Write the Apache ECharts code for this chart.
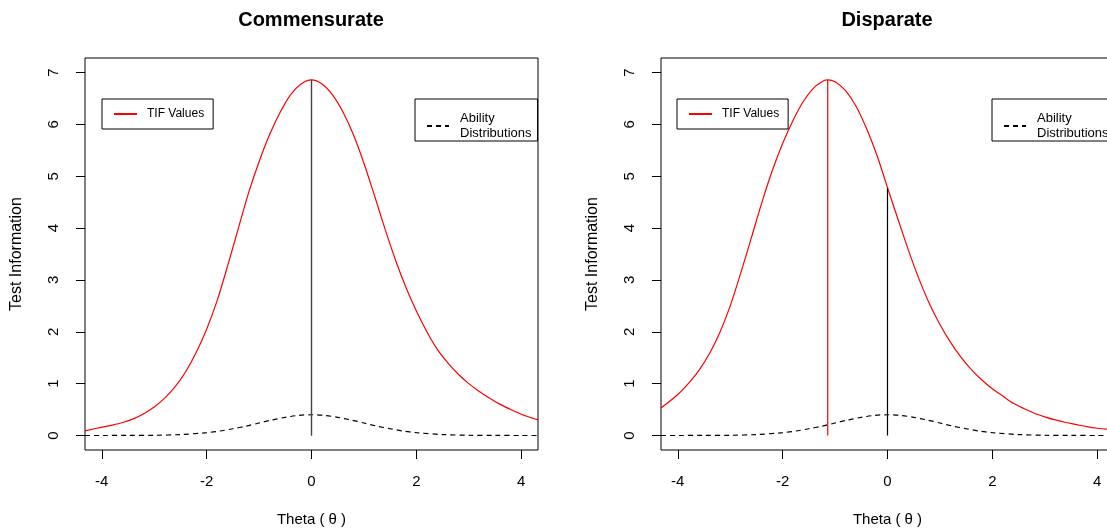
<!DOCTYPE html>
<html>
<head>
<meta charset="utf-8">
<script src="https://cdn.jsdelivr.net/npm/echarts@6/dist/echarts.min.js"></script>
<style>html,body{margin:0;padding:0;background:#fff}#c{width:1107px;height:531px}</style>
</head>
<body>
<div id="c"></div>
<script>
// ---- data ----
const panelTitles = ['Commensurate', 'Disparate'];
const xTicks = [-4, -2, 0, 2, 4];
const yTicks = [0, 1, 2, 3, 4, 5, 6, 7];

// TIF curve, commensurate panel
const thetaA = [-4.32, -4.0, -3.8, -3.6, -3.4, -3.2, -3.0, -2.8, -2.6, -2.4, -2.2, -2.0, -1.8, -1.6, -1.4, -1.2, -1.0, -0.8, -0.6, -0.4, -0.2, 0, 0.2, 0.4, 0.6, 0.8, 1.0, 1.2, 1.4, 1.6, 1.8, 2.0, 2.2, 2.4, 2.6, 2.8, 3.0, 3.2, 3.4, 3.6, 3.8, 4.0, 4.2, 4.32];
const tifA   = [0.09, 0.16, 0.20, 0.25, 0.32, 0.42, 0.55, 0.72, 0.94, 1.23, 1.60, 2.05, 2.60, 3.27, 3.98, 4.68, 5.28, 5.80, 6.23, 6.57, 6.78, 6.86, 6.78, 6.57, 6.24, 5.80, 5.25, 4.63, 3.99, 3.39, 2.86, 2.40, 2.00, 1.66, 1.40, 1.18, 1.00, 0.85, 0.72, 0.60, 0.50, 0.41, 0.34, 0.30];

// TIF curve, disparate panel
const thetaB = [-4.32, -4.0, -3.8, -3.6, -3.4, -3.2, -3.0, -2.8, -2.6, -2.4, -2.2, -2.0, -1.8, -1.6, -1.4, -1.2, -1.14, -1.0, -0.8, -0.6, -0.4, -0.2, 0, 0.2, 0.4, 0.6, 0.8, 1.0, 1.2, 1.4, 1.6, 1.8, 2.0, 2.2, 2.4, 2.6, 2.8, 3.0, 3.2, 3.4, 3.6, 3.8, 4.0, 4.32];
const tifB   = [0.53, 0.79, 1.00, 1.25, 1.57, 1.98, 2.50, 3.13, 3.80, 4.48, 5.10, 5.63, 6.08, 6.45, 6.71, 6.85, 6.86, 6.82, 6.65, 6.35, 5.92, 5.40, 4.78, 4.17, 3.57, 3.02, 2.54, 2.14, 1.80, 1.51, 1.27, 1.07, 0.90, 0.76, 0.62, 0.52, 0.43, 0.36, 0.30, 0.25, 0.21, 0.17, 0.14, 0.11];

// Ability distribution (same in both panels)
const thetaD = [-4.32, -4.0, -3.5, -3.0, -2.5, -2.0, -1.75, -1.5, -1.25, -1.0, -0.75, -0.5, -0.25, 0, 0.25, 0.5, 0.75, 1.0, 1.25, 1.5, 1.75, 2.0, 2.5, 3.0, 3.5, 4.0, 4.32];
const densD  = [0.0, 0.0, 0.001, 0.004, 0.018, 0.054, 0.086, 0.13, 0.18, 0.24, 0.30, 0.35, 0.387, 0.40, 0.387, 0.35, 0.30, 0.24, 0.18, 0.13, 0.086, 0.054, 0.018, 0.004, 0.001, 0.0, 0.0];

// vertical reference lines: [theta, top value]
const peakA = [0, 6.86];      // TIF maximum (red)
const meanA = [0, 6.86];      // ability mean (black)
const peakB = [-1.14, 6.86];
const meanB = [0, 4.77];

const zip = (xs, ys) => xs.map((x, i) => [x, ys[i]]);
const vline = p => [[p[0], 0], [p[0], p[1]]];

const FONT = 'Liberation Sans, Arial, sans-serif';
const grids = [
  {left: 85, top: 58, width: 453, height: 392},
  {left: 661, top: 58, width: 453, height: 392}
];

function xAx(i) {
  return {
    type: 'value', gridIndex: i, min: -4.32, max: 4.32,
    name: 'Theta ( θ )', nameLocation: 'middle', nameGap: 62,
    nameTextStyle: {fontFamily: FONT, fontSize: 15, color: '#000'},
    axisLine: {show: false, onZero: false},
    axisTick: {show: true, length: 9, inside: false, customValues: xTicks, lineStyle: {color: '#000', width: 1}},
    axisLabel: {show: true, customValues: xTicks, margin: 24, fontFamily: FONT, fontSize: 15, color: '#000'},
    splitLine: {show: false}
  };
}
function yAx(i) {
  return {
    type: 'value', gridIndex: i, min: -0.28, max: 7.28,
    name: 'Test Information', nameLocation: 'middle', nameGap: 60,
    nameTextStyle: {fontFamily: FONT, fontSize: 16, color: '#000'},
    axisLine: {show: false, onZero: false},
    axisTick: {show: true, length: 9, inside: false, customValues: yTicks, lineStyle: {color: '#000', width: 1}},
    axisLabel: {show: true, customValues: yTicks, rotate: 90, margin: 24, fontFamily: FONT, fontSize: 15, color: '#000'},
    splitLine: {show: false}
  };
}

function lineSeries(name, i, data, color, dashed, smooth, width) {
  return {
    name: name, type: 'line', xAxisIndex: i, yAxisIndex: i, data: data,
    symbol: 'none', smooth: smooth, clip: true, animation: false,
    lineStyle: {color: color, width: width || 1.2, type: dashed ? [5, 4] : 'solid'},
    itemStyle: {color: color}
  };
}

const series = [
  lineSeries('TIF Values', 0, zip(thetaA, tifA), '#ff0000', false, 0.3),
  lineSeries('Ability Distributions', 0, zip(thetaD, densD), '#000000', true, 0.3),
  lineSeries('peakA', 0, vline(peakA), '#ff0000', false, false, 1),
  lineSeries('meanA', 0, vline(meanA), '#444444', false, false, 1.4),
  lineSeries('TIF Values', 1, zip(thetaB, tifB), '#ff0000', false, 0.3),
  lineSeries('Ability Distributions', 1, zip(thetaD, densD), '#000000', true, 0.3),
  lineSeries('peakB', 1, vline(peakB), '#ff0000', false, false),
  lineSeries('meanB', 1, vline(meanB), '#000000', false, false)
];

const hiddenSymbol = {opacity: 0, color: 'rgba(0,0,0,0)', borderWidth: 0};

function legendTIF(left) {
  return {
    data: ['TIF Values'], left: left, top: 99, orient: 'vertical',
    padding: [9, 9, 9, 11], itemWidth: 23, itemHeight: 14, itemGap: 0,
    borderColor: '#000', borderWidth: 1, borderRadius: 0, backgroundColor: '#fff',
    selectedMode: false, itemStyle: hiddenSymbol,
    textStyle: {fontFamily: FONT, fontSize: 12, color: '#000', padding: [0, 0, 0, 5]}
  };
}
function legendAbility(left) {
  return {
    data: ['Ability Distributions'], left: left, top: 99, orient: 'vertical',
    padding: [12, 6, 0, 11], itemWidth: 22, itemHeight: 14, itemGap: 0,
    borderColor: '#000', borderWidth: 1, borderRadius: 0, backgroundColor: '#fff',
    selectedMode: false, itemStyle: hiddenSymbol,
    formatter: () => 'Ability\nDistributions',
    textStyle: {fontFamily: FONT, fontSize: 13, lineHeight: 15, color: '#000', padding: [0, 0, 0, 6]}
  };
}

const option = {
  backgroundColor: '#fff',
  animation: false,
  title: [
    {text: panelTitles[0], left: 311, top: 10, textAlign: 'center', padding: 0,
     textStyle: {fontFamily: FONT, fontSize: 20, fontWeight: 'bold', color: '#000'}},
    {text: panelTitles[1], left: 887, top: 10, textAlign: 'center', padding: 0,
     textStyle: {fontFamily: FONT, fontSize: 20, fontWeight: 'bold', color: '#000'}}
  ],
  grid: grids.map(g => Object.assign({show: true, borderColor: '#000', borderWidth: 1, backgroundColor: 'transparent', containLabel: false, outerBoundsMode: 'none'}, g)),
  xAxis: [xAx(0), xAx(1)],
  yAxis: [yAx(0), yAx(1)],
  legend: [legendTIF(102), legendAbility(415), legendTIF(677), legendAbility(992)],
  series: series
};

const chart = echarts.init(document.getElementById('c'), null, {renderer: 'canvas'});
chart.setOption(option);
</script>
</body>
</html>
